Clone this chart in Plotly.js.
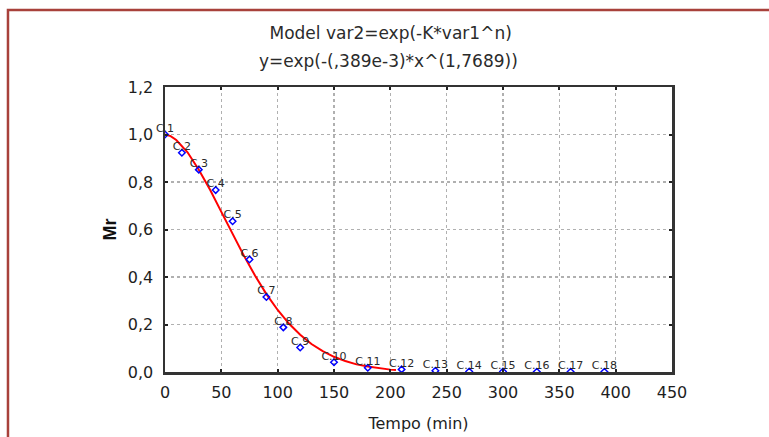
<!DOCTYPE html>
<html>
<head>
<meta charset="utf-8">
<script src="https://cdn.plot.ly/plotly-3.0.1.min.js"></script>
<style>
  html, body { margin: 0; padding: 0; background: #ffffff; }
  #chart { width: 769px; height: 437px; }
</style>
</head>
<body>
<div id="chart"></div>
<script>
// Observed drying data: time (min) and moisture ratio Mr
const sampleTime = [0, 15, 30, 45, 60, 75, 90, 105, 120, 150, 180, 210, 240, 270, 300, 330, 360, 390];
const sampleMr = [1.0, 0.923, 0.852, 0.766, 0.635, 0.474, 0.316, 0.188, 0.103, 0.041, 0.018, 0.011, 0.005, 0.002, 0.002, 0.001, 0.001, 0.001];
const sampleNames = ["C.1", "C.2", "C.3", "C.4", "C.5", "C.6", "C.7", "C.8", "C.9", "C.10",
                     "C.11", "C.12", "C.13", "C.14", "C.15", "C.16", "C.17", "C.18"];

// Fitted model curve
const fitTime = [0, 5, 10, 20, 30, 40, 50, 60, 70, 80, 90, 100, 110, 120, 130, 140, 150, 160, 170, 180, 190, 200, 205];
const fitMr = [1.0, 0.993, 0.977, 0.925, 0.852, 0.767, 0.674, 0.581, 0.490, 0.405, 0.328, 0.261, 0.204, 0.157, 0.118, 0.088, 0.064, 0.046, 0.032, 0.023, 0.015, 0.010, 0.008];

// Axis ticks
const xTickVals = [0, 50, 100, 150, 200, 250, 300, 350, 400, 450];
const xTickText = ["0", "50", "100", "150", "200", "250", "300", "350", "400", "450"];
const yTickVals = [0, 0.2, 0.4, 0.6, 0.8, 1.0, 1.2];
const yTickText = ["0,0", "0,2", "0,4", "0,6", "0,8", "1,0", "1,2"];

const titleLine1 = "Model var2=exp(-K*var1^n)";
const titleLine2 = "y=exp(-(,389e-3)*x^(1,7689))";

const fitTrace = {
  x: fitTime,
  y: fitMr,
  type: "scatter",
  mode: "lines",
  line: { color: "#ff0000", width: 2 },
  hoverinfo: "skip"
};

// markers are clipped at the axes, so points lying on zero show only partly
const pointTrace = {
  x: sampleTime,
  y: sampleMr,
  type: "scatter",
  mode: "markers",
  cliponaxis: true,
  marker: { symbol: "diamond-open", size: 5, color: "#0000ff", line: { width: 1.5, color: "#0000ff" } }
};

// case labels above each point, allowed to spill over the axes
const labelTrace = {
  x: sampleTime,
  y: sampleMr,
  type: "scatter",
  mode: "text",
  text: sampleNames,
  textposition: "top center",
  textfont: { family: "DejaVu Sans", size: 11, color: "#2a2a2a" },
  cliponaxis: false,
  hoverinfo: "skip"
};

const axisCommon = {
  showgrid: true,
  gridcolor: "#b0b0b0",
  griddash: "dot",
  gridwidth: 1.5,
  showline: true,
  linecolor: "#333333",
  linewidth: 2.5,
  mirror: "ticks",
  ticks: "inside",
  ticklen: 3,
  tickwidth: 2,
  tickcolor: "#222222",
  zeroline: false,
  tickfont: { family: "DejaVu Sans", size: 16, color: "#1e1e1e" },
  automargin: false
};

const layout = {
  width: 769,
  height: 437,
  margin: { l: 165, r: 97, t: 87, b: 65 },
  paper_bgcolor: "#ffffff",
  plot_bgcolor: "#ffffff",
  showlegend: false,
  font: { family: "DejaVu Sans", color: "#1e1e1e" },
  title: {
    text: titleLine1,
    font: { family: "DejaVu Sans", size: 17, color: "#2b2b2b" },
    xref: "container", x: 0.508, xanchor: "center",
    yref: "container", y: 0.924, yanchor: "middle"
  },
  xaxis: Object.assign({}, axisCommon, {
    range: [0, 450],
    tickvals: xTickVals,
    ticktext: xTickText,
    ticklabelstandoff: 4,
    title: { text: "Tempo (min)", font: { family: "DejaVu Sans", size: 16, color: "#1e1e1e" }, standoff: 17 }
  }),
  yaxis: Object.assign({}, axisCommon, {
    range: [0, 1.2],
    tickvals: yTickVals,
    ticktext: yTickText,
    ticklabelstandoff: 6,
    title: { text: "<b>Mr</b>", font: { family: "Liberation Sans", size: 18, color: "#111111" }, standoff: 7 }
  }),
  annotations: [{
    text: titleLine2,
    xref: "paper", yref: "paper",
    x: 0.44, y: 1.091,
    xanchor: "center", yanchor: "middle",
    showarrow: false,
    font: { family: "DejaVu Sans", size: 17, color: "#2b2b2b" }
  }],
  shapes: [{
    // frame around the figure (top and left edges)
    type: "path",
    xref: "paper", yref: "paper",
    path: "M -0.3097 -0.3 L -0.3097 1.2702 L 1.3 1.2702",
    line: { color: "#a8413b", width: 2.5 },
    layer: "above"
  }]
};

Plotly.newPlot("chart", [fitTrace, pointTrace, labelTrace], layout, { displayModeBar: false, staticPlot: true });
</script>
</body>
</html>
